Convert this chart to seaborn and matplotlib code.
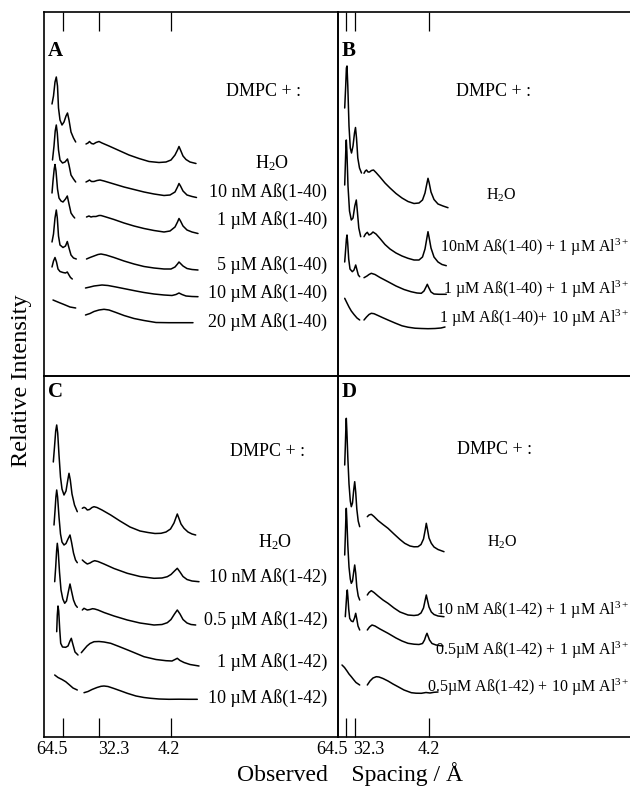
import matplotlib
matplotlib.use("Agg")
import matplotlib.pyplot as plt
import seaborn as sns

# x = position along the (broken) spacing axis, y = relative intensity,
# both in arbitrary units. One list per trace, top to bottom.

# ---- panel A : DMPC + Abeta(1-40)
A_SMALL_X = [
    [8, 9.5, 11, 12.3, 13.5, 14.5, 16, 18, 20, 22, 23.5, 25, 27, 29.5, 31.7],
    [8.5, 10, 11.2, 12.3, 13.3, 14.5, 16, 18.5, 21, 23.5, 25, 27, 29.5, 31.7],
    [8, 9, 10.2, 11, 12, 13.5, 15, 17, 19, 21.5, 23.3, 25, 27, 29, 30.7],
    [8, 9.5, 11, 12.3, 13.3, 14.5, 16, 19, 21.5, 23.3, 25, 27, 29.5, 32.3],
    [8, 9.5, 11, 12.5, 14, 16, 19, 21.5, 23.3, 25, 26.5, 28.3],
    [9, 15, 20, 26, 31.7],
]
A_SMALL_Y = [
    [272, 280, 294, 299, 290, 268, 256, 251, 254, 260, 263, 256, 244, 238, 234],
    [216, 230, 245, 251, 243, 226, 216, 213, 214, 217, 211, 201, 197, 194],
    [183, 195, 207, 211.5, 205, 187, 178, 175, 174, 177, 180, 172, 163, 160, 158],
    [134, 142, 158, 166, 158, 140, 131, 128.5, 130, 134.5, 128, 121, 118, 117],
    [109, 115, 118.5, 114, 107, 104.5, 103.5, 103, 104, 101, 98.5, 97],
    [76, 73.5, 71.5, 69, 68],
]
A_WIDE_X = [
    [42, 44, 45.5, 47.5, 49.5, 52, 55, 58, 65, 75, 85, 95, 105, 115, 122, 127, 131, 133.5, 135, 136.5, 139, 142, 146, 152],
    [42, 44, 45.5, 47.5, 50, 53, 56, 60, 70, 80, 90, 100, 110, 120, 126, 131, 133.5, 135, 136.5, 139, 143, 148, 152.5],
    [42.5, 45, 47, 49, 52, 55, 57, 62, 70, 80, 90, 100, 110, 120, 126, 131, 133.5, 135, 136.5, 139, 143, 148, 154],
    [42.5, 46, 50, 54, 57, 62, 70, 80, 90, 100, 110, 120, 127, 131, 133.5, 135, 136.5, 139, 143, 148, 154],
    [41.5, 46, 50, 54, 58, 64, 72, 82, 92, 100, 110, 120, 128, 132, 135, 138, 142, 148, 154],
    [41.5, 46, 50, 55, 60, 65, 72, 80, 90, 100, 112, 125, 140, 149],
]
A_WIDE_Y = [
    [232, 233, 234.5, 232.5, 232, 233.5, 234.5, 233, 230, 225.5, 221, 217.5, 214.5, 213.5, 214, 216, 221, 226, 229.5, 226, 220, 216.5, 214, 212.5],
    [194, 195, 196, 194.5, 194.5, 195.5, 196, 195, 192, 189, 186.5, 184, 182, 180.5, 181, 184, 189, 192.5, 190, 185, 181, 179.5, 178.5],
    [159, 160, 159, 159.5, 159.5, 160.5, 160.5, 159, 156.5, 153, 150, 147.5, 145.5, 144, 145, 149, 154, 157.5, 155, 150, 146, 144, 142.5],
    [117, 118.5, 120, 121.5, 122, 121, 118.5, 115, 112, 109.5, 108, 107, 107, 109, 112, 114, 112.5, 110, 107.5, 106.5, 106],
    [88, 89, 90, 90.5, 91, 90.5, 89, 87, 85, 83.5, 82, 81, 80.5, 81.5, 83, 81.5, 80, 79.5, 79.3],
    [61, 62.5, 64.5, 66, 66.7, 66, 63.5, 60.5, 57.5, 55.5, 53.5, 53.3, 53.3, 53.3],
]
A_LABELS = ["H$_2$O", "10 nM Aß(1-40)", "1 µM Aß(1-40)", "5 µM Aß(1-40)",
            "10 µM Aß(1-40)", "20 µM Aß(1-40)"]
A_LABEL_Y = [213, 184, 156, 111, 83, 54]

# ---- panel B : DMPC + Abeta(1-40) + Al3+
B_SMALL_X = [
    [6.7, 7.7, 8.4, 9, 9.8, 11, 12.3, 13.5, 15, 16.5, 17.5, 18.5, 19.8, 21.5, 23.5],
    [6.7, 7.3, 7.9, 8.3, 8.9, 10, 11.5, 13.3, 15, 16.8, 18.3, 19.5, 20.8, 22.7],
    [6.7, 7.6, 8.4, 9, 9.7, 10.7, 12, 14.3, 16, 17.7, 19, 20.3, 21.7],
    [6.7, 9, 11, 13.3, 16, 19, 21.7],
]
B_SMALL_Y = [
    [268, 290, 308, 310, 290, 250, 228, 223, 230, 243, 248.5, 238, 218, 208, 203],
    [191, 210, 229, 236, 224, 190, 165, 156, 158, 170, 176, 163, 148, 139.3],
    [114, 126, 137, 141, 133, 117, 107, 104.3, 106, 111, 106, 101, 99.3],
    [77.7, 73, 69, 65, 61.5, 58, 56],
]
B_WIDE_X = [
    [26, 27.3, 28.5, 30, 31.5, 33.5, 35.5, 38, 42, 47, 52, 58, 64, 70, 76, 81, 84.5, 87, 88.8, 90, 91.2, 93, 96, 100, 105, 110],
    [26, 27.5, 29.3, 31, 33, 35, 38, 42, 47, 52, 58, 64, 70, 76, 81, 84.5, 87, 88.8, 90, 91.2, 93, 96, 100, 104, 108.3],
    [26, 29, 31, 33.3, 37, 42, 50, 58, 66, 73, 79, 83.3, 86, 88, 89.3, 90.7, 93, 96, 101, 108.3],
    [26, 28.5, 31, 33.3, 36, 40, 45, 50, 57, 64, 70, 77, 83.3, 90, 97, 103, 107],
]
B_WIDE_Y = [
    [202.7, 205, 206, 204, 204, 205.5, 206, 203.5, 199, 193, 188, 182.5, 178, 174.5, 172.5, 173, 176, 183, 192, 197.7, 193, 184, 176.5, 172, 170, 168.3],
    [139.3, 142, 143.7, 141, 142, 144, 142, 137.5, 131.5, 127, 123, 120, 117.7, 116, 116, 119, 127, 137.5, 144.3, 138, 128, 119, 114, 111.5, 110.3],
    [98.3, 100, 101.5, 102.7, 101.5, 98.5, 94.3, 90, 86.5, 84.3, 83, 82.7, 85, 89, 91.7, 88.5, 84, 82, 81.7, 81.7],
    [56, 59, 61.5, 62.7, 62.3, 60.5, 58.2, 56, 53, 50.2, 48.8, 47.8, 47.5, 47.3, 47.5, 48, 49],
]
B_LABELS = ["10nM Aß(1-40) + 1 µM Al$^{3+}$", "1 µM Aß(1-40) + 1 µM Al$^{3+}$",
            "1 µM Aß(1-40)+ 10 µM Al$^{3+}$"]
B_LABEL_Y = [129, 87, 58]

# ---- panel C : DMPC + Abeta(1-42)
C_SMALL_X = [
    [9.3, 10.5, 11.7, 12.7, 13.7, 15, 16.5, 18, 20, 22, 23.8, 25, 26.3, 28, 30.5, 33.3],
    [10, 11, 11.9, 12.7, 13.6, 15, 16.5, 18, 20, 22, 24, 26, 27.5, 29.5, 31.5, 33.3],
    [10.7, 11.7, 12.6, 13.3, 14.2, 15.5, 17, 18.8, 20.7, 22.5, 24.5, 26, 27.5, 29.5, 31.5, 33.3],
    [12.7, 13.3, 14, 14.7, 15.7, 16.7, 18.5, 21.7, 24, 26, 27.3, 28.8, 31, 34],
    [10.7, 14, 18, 21.7, 25, 29, 33.3],
]
C_SMALL_Y = [
    [275, 290, 306, 312, 304, 282, 260, 248, 242, 246, 257, 263.7, 257, 243, 232, 225.3],
    [212, 226, 240, 247, 240, 220, 203, 195, 192, 193.5, 198, 202, 195, 184, 177, 174.3],
    [155.3, 170, 186, 193.7, 186, 165, 147, 138, 133.7, 136, 146, 153, 146, 137, 132, 129.7],
    [105.3, 122, 131, 126, 108, 93.7, 90, 89.7, 91, 96, 98.7, 93, 85, 82],
    [62, 59.5, 57.5, 55.3, 52.5, 49, 47],
]
C_WIDE_X = [
    [38.3, 40, 41.5, 43.3, 45.5, 48, 50, 53, 58, 66.7, 76, 86, 96, 104, 111, 117, 122, 126.5, 130, 132, 133.3, 134.8, 137, 140, 144, 148, 151.7],
    [38.3, 40.5, 43.3, 46, 48.5, 50.7, 54, 60, 70, 83.3, 96, 110, 118, 123.3, 127, 130.5, 133.3, 136, 139, 143, 148, 155],
    [38.3, 40, 41.7, 43.3, 46, 48.5, 50.7, 54, 60, 70, 83.3, 96, 110, 118, 123.3, 127, 130.5, 133.3, 136, 139, 143, 147, 151.7],
    [37.3, 40, 43, 46, 50, 55, 60, 66.7, 75, 85, 100, 112, 122, 128, 131, 133.3, 136, 140, 146, 155],
    [40, 44, 48, 53, 57, 60, 64, 70, 77, 83.3, 92, 100, 106.7, 115, 125, 135, 145, 153.3],
]
C_WIDE_Y = [
    [228.7, 229.7, 229, 227, 227.5, 229.5, 230.3, 229.5, 227, 222, 216, 210, 206, 204.5, 203.5, 203.7, 205, 208, 214, 219.5, 223, 219, 213, 208.7, 205, 203, 202],
    [177, 175, 173, 174, 175.5, 176.3, 175.5, 173, 168.5, 163.7, 160.5, 158.7, 159, 160.3, 162.5, 166, 168.7, 165, 160.5, 157.5, 156, 155.3],
    [127, 128.7, 127.8, 127, 127.5, 128.3, 128, 127, 124.5, 121, 117, 114, 112, 112.5, 114.3, 117.5, 123, 127, 123, 117.5, 114, 112.5, 112],
    [84.3, 87.5, 91, 93.5, 95.3, 95.5, 95, 93.7, 90.5, 86.5, 80.3, 77.5, 76.3, 76, 77.5, 78.7, 76.5, 74.5, 72.5, 71],
    [44.3, 45.5, 47.5, 49.5, 50.7, 51, 50.5, 48.5, 46, 43.7, 41, 39.5, 38.7, 38, 37.7, 37.8, 37.7, 37.7],
]
C_LABELS = ["H$_2$O", "10 nM Aß(1-42)", "0.5 µM Aß(1-42)", "1 µM Aß(1-42)",
            "10 µM Aß(1-42)"]
C_LABEL_Y = [195, 160, 117, 75, 39]

# ---- panel D : DMPC + Abeta(1-42) + Al3+
D_SMALL_X = [
    [6.7, 7.3, 7.9, 8.3, 8.9, 9.8, 11, 12.3, 13.3, 14.5, 15.7, 16.7, 17.7, 18.8, 20.2, 21.7],
    [6.7, 7.3, 7.9, 8.3, 8.9, 9.8, 11, 12.3, 13.3, 14.5, 15.7, 16.7, 17.7, 18.8, 20.2, 21.7],
    [7.3, 8, 8.7, 9.3, 9.9, 10.7, 11.7, 13.3, 15, 16.5, 17.7, 18.8, 20, 21.7],
    [4, 6.5, 9, 11, 13.3, 15.5, 18, 21.7],
]
D_SMALL_Y = [
    [272, 290, 310, 318.7, 305, 280, 253, 236, 230.3, 234, 247, 255.3, 245, 228, 216, 210.3],
    [182, 200, 220, 228.7, 216, 192, 170, 158, 153.7, 156, 165, 172, 164, 150, 141, 137],
    [120.3, 131, 142, 147, 140, 128, 118.7, 116, 115.3, 119, 123.7, 118, 111, 107],
    [72, 69.5, 66, 63, 60.3, 57.5, 54.5, 52],
]
D_WIDE_X = [
    [29.3, 31, 33.3, 36, 40, 45, 50, 56, 62, 66.7, 72, 76, 80, 83, 85.5, 87.2, 88.3, 89.4, 91, 93.3, 96, 100, 106],
    [29.3, 31, 33.3, 36, 40, 45, 50, 56, 62, 70, 76, 80, 83, 85.5, 87.2, 88.3, 89.4, 91, 93.3, 96, 100, 106],
    [29.3, 31.5, 34, 37, 42, 50, 58, 64, 70, 76, 81, 84.5, 86.5, 88, 89, 90, 91.5, 94, 98, 105],
    [29.3, 32, 35, 38.3, 41, 45, 50, 55, 60, 66, 73.3, 78, 83.3, 88, 92, 96, 100],
]
D_WIDE_Y = [
    [220.3, 222, 222.7, 220.5, 216.5, 212.5, 208.7, 203, 197.5, 193.7, 191, 190.2, 190.3, 192.5, 198, 207, 213.7, 208, 199, 193.7, 190, 187.5, 185.3],
    [142, 144.5, 146.3, 144.5, 141, 137, 133.7, 129, 125, 122, 121.5, 122, 124, 129, 137, 142, 137, 130, 125, 122.5, 121, 120.3],
    [107, 110, 112, 111, 108, 103.7, 99, 96, 93.7, 92.8, 92.5, 93.5, 97, 101.5, 103.7, 101, 97, 93.5, 92, 91],
    [52, 56, 59, 60.3, 60, 58.5, 56, 53, 50.3, 47, 44.3, 43.8, 43.7, 44.5, 44, 44.7, 45],
]
D_LABELS = ["10 nM Aß(1-42) + 1 µM Al$^{3+}$", "0.5µM Aß(1-42) + 1 µM Al$^{3+}$",
            "0.5µM Aß(1-42) + 10 µM Al$^{3+}$"]
D_LABEL_Y = [127, 87, 50]

# reflection markers (64.5, 32.3 and 4.2 A) on each half of the broken axis
LEFT_TICKS = [19, 55, 126.5]
RIGHT_TICKS = [7.5, 17, 91]
TICK_TEXT = ["64.5", "32.3", "4.2"]
LEFT_TICK_TEXT_X = [8, 70, 125]
RIGHT_TICK_TEXT_X = [-6, 31, 91]

sns.set_theme(style="white")
plt.rcParams["font.family"] = ["Liberation Serif", "DejaVu Serif"]
plt.rcParams["text.color"] = "black"
plt.rcParams["mathtext.fontset"] = "custom"
plt.rcParams["mathtext.rm"] = "Liberation Serif"
plt.rcParams["mathtext.it"] = "Liberation Serif:italic"

W, H = 630, 787
fig = plt.figure(figsize=(6.3, 7.87), dpi=100)


def make_axes(left, top, width, height):
    ax = fig.add_axes([left / W, (H - top - height) / H, width / W, height / H])
    ax.set_xlim(0, width)
    ax.set_ylim(0, height)
    ax.set_facecolor("none")
    ax.set_yticks([])
    for s in ax.spines.values():
        s.set_color("black")
        s.set_linewidth(1.2)
    return ax


axA = make_axes(44, 12, 294, 364)
axB = make_axes(338, 12, 294, 364)
axC = make_axes(44, 376, 294, 361)
axD = make_axes(338, 376, 294, 361)
for ax in (axB, axD):
    ax.spines["right"].set_visible(False)

panels = [
    (axA, "A", A_SMALL_X, A_SMALL_Y, A_WIDE_X, A_WIDE_Y),
    (axB, "B", B_SMALL_X, B_SMALL_Y, B_WIDE_X, B_WIDE_Y),
    (axC, "C", C_SMALL_X, C_SMALL_Y, C_WIDE_X, C_WIDE_Y),
    (axD, "D", D_SMALL_X, D_SMALL_Y, D_WIDE_X, D_WIDE_Y),
]
for ax, letter, sx, sy, wx, wy in panels:
    for xs, ys in list(zip(sx, sy)) + list(zip(wx, wy)):
        sns.lineplot(x=xs, y=ys, ax=ax, color="black", linewidth=1.1,
                     sort=False, estimator=None)
    ax.text(4, ax.get_ylim()[1] - (39 if letter in "AB" else 16),
            letter, fontsize=15, fontweight="bold", ha="left", va="center")

# top tick marks (A, B) and bottom tick marks (C, D)
for ax, ticks, top in [(axA, LEFT_TICKS, True), (axB, RIGHT_TICKS, True),
                       (axC, LEFT_TICKS, False), (axD, RIGHT_TICKS, False)]:
    ax.set_xticks(ticks)
    ax.tick_params(axis="x", top=top, bottom=not top, direction="in",
                   length=14, width=0.9, color="black",
                   labelbottom=False, labeltop=False)

for ax, xs in [(axC, LEFT_TICK_TEXT_X), (axD, RIGHT_TICK_TEXT_X)]:
    for x, t in zip(xs, TICK_TEXT):
        ax.text(x, -12, t, fontsize=13, ha="center", va="center", clip_on=False)

# sample labels
axA.text(220, 284, "DMPC + :", fontsize=13, ha="center", va="center")
axC.text(224, 285, "DMPC + :", fontsize=13, ha="center", va="center")
axB.text(156, 284, "DMPC + :", fontsize=13, ha="center", va="center")
axD.text(157, 287, "DMPC + :", fontsize=13, ha="center", va="center")

for ax, labels, ys, h2o_x in [(axA, A_LABELS, A_LABEL_Y, 228), (axC, C_LABELS, C_LABEL_Y, 231)]:
    ax.text(h2o_x, ys[0], labels[0], fontsize=13, ha="center", va="center")
    for lab, y in zip(labels[1:], ys[1:]):
        ax.text(283, y, lab, fontsize=13, ha="right", va="center")

axB.text(163, 181, "H$_2$O", fontsize=11.5, ha="center", va="center")
axD.text(164, 195, "H$_2$O", fontsize=11.5, ha="center", va="center")
for ax, labels, ys in [(axB, B_LABELS, B_LABEL_Y), (axD, D_LABELS, D_LABEL_Y)]:
    for lab, y in zip(labels, ys):
        ax.text(291, y, lab, fontsize=11.5, ha="right", va="center", clip_on=False)

fig.text(22 / W, (H - 381) / H, "Relative Intensity", fontsize=17.5,
         rotation=90, ha="center", va="center")
fig.text(350 / W, 1 / H, "Observed    Spacing / Å", fontsize=17,
         ha="center", va="bottom")

fig.savefig("out.png", dpi=100)
